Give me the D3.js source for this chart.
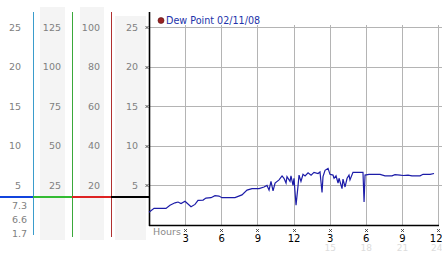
<!DOCTYPE html>
<html>
<head>
<meta charset="utf-8">
<script src="https://cdn.jsdelivr.net/npm/d3@7"></script>
<style>
  body { margin: 0; background: #fff; }
  svg { display: block; font-family: 'DejaVu Sans', Verdana, sans-serif; }
</style>
</head>
<body>
<svg width="442" height="253"></svg>
<script>
'use strict'

// dew point readings, hours since midnight
const hours = [0, 0.42, 1.41, 1.74, 2.16, 2.41, 2.66, 2.99, 3.49, 3.82, 4.07, 4.49, 4.73, 5.15, 5.48, 5.81,
  6.06, 7.14, 7.72, 8.14, 8.55, 9.14, 9.55, 9.80, 9.97, 10.13, 10.30, 10.47, 10.80, 11.05, 11.21, 11.38,
  11.46, 11.71, 11.79, 11.96, 12.04, 12.21, 12.38, 12.46, 12.62, 12.79, 12.96, 13.21, 13.46, 13.70, 14.04,
  14.20, 14.37, 14.45, 14.62, 14.87, 15.03, 15.28, 15.37, 15.53, 15.70, 15.78, 16.03, 16.11, 16.28, 16.45,
  16.61, 16.69, 16.94, 17.77, 17.86, 17.94, 18.27, 19.19, 19.60, 20.18, 20.43, 20.85, 21.10, 21.51, 21.84,
  22.51, 22.76, 23.34, 23.67]
const dewPoint = [1.6, 2.1, 2.1, 2.5, 2.8, 2.9, 2.7, 3.0, 2.3, 2.6, 3.1, 3.15, 3.4, 3.45, 3.7, 3.65,
  3.45, 3.45, 3.8, 4.4, 4.6, 4.6, 4.8, 5.0, 4.4, 5.5, 4.3, 5.3, 5.7, 6.2, 5.9, 5.3,
  6.1, 5.5, 6.2, 5.0, 5.9, 2.5, 5.0, 6.3, 5.5, 6.4, 6.2, 6.6, 6.3, 6.65, 6.5,
  6.7, 4.1, 6.1, 6.9, 7.15, 6.4, 6.3, 5.9, 6.2, 5.3, 5.9, 4.6, 5.8, 4.8, 5.9,
  6.3, 5.7, 6.65, 6.65, 2.9, 6.3, 6.4, 6.4, 6.2, 6.2, 6.35, 6.3, 6.25, 6.3, 6.2,
  6.2, 6.4, 6.4, 6.5]

const hourTicks = [3, 6, 9, 12, 15, 18, 21, 24]
const lateTicks = [15, 18, 21, 24]
const dewTicks = [5, 10, 15, 20, 25]
const scaleTicks = [
  [25, 20, 15, 10, 5],
  [125, 100, 75, 50, 25],
  [100, 80, 60, 40, 20],
  [25, 20, 15, 10, 5]
]
const scaleMax = [25, 125, 100, 25]
const statLabels = ['7.3', '6.6', '1.7']
const markerValue = 3.5
const legendLabel = 'Dew Point 02/11/08'

const svg = d3.select('svg')

const x = d3.scaleLinear().domain([0, 24]).range([149, 438])
const y = d3.scaleLinear().domain([0, 25]).range([225, 27])

// left scale columns
const colBg = [null, [40, 7, 25], [80, 7, 24], [115, 16, 31]]
colBg.forEach((b) => {
  if (!b) return
  svg.append('rect').attr('x', b[0]).attr('y', b[1]).attr('width', b[2]).attr('height', 240 - b[1])
    .attr('fill', '#f4f4f4')
})

const colRight = [21, 61, 100, 138]
scaleTicks.forEach((ticks, i) => {
  const s = d3.scaleLinear().domain([0, scaleMax[i]]).range([225, 27])
  const g = svg.append('g').attr('transform', `translate(${colRight[i]}, 0)`)
    .call(d3.axisLeft(s).tickValues(ticks).tickSize(0).tickPadding(0))
  g.select('.domain').remove()
  g.selectAll('text').attr('fill', '#808080').style('font-size', '9.5px')
    .style('font-family', "'DejaVu Sans', sans-serif")
})

statLabels.forEach((t, i) => {
  svg.append('text').attr('x', 27).attr('y', 208.5 + i * 14).attr('text-anchor', 'end')
    .attr('fill', '#808080').style('font-size', '9.5px').text(t)
})

// vertical scale separators
const sepLines = [[33, 235, '#3a9ccc'], [72, 237, '#3aa83a'], [111, 237, '#b03030']]
sepLines.forEach((l) => {
  svg.append('line').attr('x1', l[0] + 0.5).attr('x2', l[0] + 0.5).attr('y1', 12).attr('y2', l[1])
    .attr('stroke', l[2]).attr('stroke-width', 1)
})

// marker line across scales
const markSegs = [[0, 33, '#1144dd'], [33, 72, '#33bb33'], [72, 111, '#dd2222'], [111, 149, '#000']]
markSegs.forEach((m) => {
  svg.append('line').attr('x1', m[0]).attr('x2', m[1])
    .attr('y1', Math.round(y(markerValue))).attr('y2', Math.round(y(markerValue)))
    .attr('stroke', m[2]).attr('stroke-width', 2.2)
})

// grid
const grid = svg.append('g').attr('stroke', '#b4b4b4').attr('stroke-width', 1)
dewTicks.forEach((v) => {
  grid.append('line').attr('x1', 149).attr('x2', 442)
    .attr('y1', Math.round(y(v)) + 0.5).attr('y2', Math.round(y(v)) + 0.5)
})
hourTicks.forEach((h) => {
  grid.append('line').attr('x1', Math.round(x(h)) + 0.5).attr('x2', Math.round(x(h)) + 0.5)
    .attr('y1', 25).attr('y2', 225)
})

// tiny cross tick marks
const cross = (cx, cy) => `M${cx - 1.5},${cy - 1.5}L${cx + 1.5},${cy + 1.5}M${cx + 1.5},${cy - 1.5}L${cx - 1.5},${cy + 1.5}`
dewTicks.forEach((v) => {
  svg.append('path').attr('d', cross(147, Math.round(y(v)) + 0.5))
    .attr('stroke', '#333').attr('stroke-width', 0.8)
})
hourTicks.forEach((h) => {
  svg.append('path').attr('d', cross(Math.round(x(h)) + 0.5, 230.5))
    .attr('stroke', '#333').attr('stroke-width', 0.8)
})

// axes lines
svg.append('line').attr('x1', 149.5).attr('x2', 149.5).attr('y1', 12).attr('y2', 226)
  .attr('stroke', '#000').attr('stroke-width', 1.6)
svg.append('line').attr('x1', 149).attr('x2', 439).attr('y1', 225.5).attr('y2', 225.5)
  .attr('stroke', '#000').attr('stroke-width', 1.4)

// hour labels; the last one is pulled in so it stays inside the frame
const fitLast = (sel) => {
  sel.selectAll('.tick').filter((d) => d === 24).select('text')
    .attr('text-anchor', 'end').attr('x', 442 - x(24))
}

const xAxis = svg.append('g').attr('transform', 'translate(0, 225)')
  .call(d3.axisBottom(x).tickValues(hourTicks).tickSize(0).tickPadding(10)
    .tickFormat((h) => (h % 12 === 0 ? 12 : h % 12)))
xAxis.select('.domain').remove()
xAxis.selectAll('text').attr('fill', '#000').style('font-size', '10px')
  .style('font-family', "'DejaVu Sans', sans-serif")
fitLast(xAxis)

const lateAxis = svg.append('g').attr('transform', 'translate(0, 225)')
  .call(d3.axisBottom(x).tickValues(lateTicks).tickSize(0).tickPadding(19.5))
lateAxis.select('.domain').remove()
lateAxis.selectAll('text').attr('fill', '#dcdcdc').style('font-size', '9px')
  .style('font-family', "'DejaVu Sans', sans-serif")
fitLast(lateAxis)

svg.append('text').attr('x', 153).attr('y', 235).attr('fill', '#8a8a8a')
  .style('font-size', '9.5px').text('Hours')

// dew point line
const line = d3.line().x((d) => x(d[0])).y((d) => y(d[1]))
svg.append('path').datum(d3.zip(hours, dewPoint))
  .attr('d', line).attr('fill', 'none').attr('stroke', '#1c1ca8').attr('stroke-width', 1.2)

// legend
svg.append('circle').attr('cx', 161).attr('cy', 20.5).attr('r', 3)
  .attr('fill', '#992222').attr('stroke', '#551111').attr('stroke-width', 0.6)
svg.append('text').attr('x', 166).attr('y', 24).attr('fill', '#2233aa')
  .style('font-size', '9.6px').text(legendLabel)
</script>
</body>
</html>
